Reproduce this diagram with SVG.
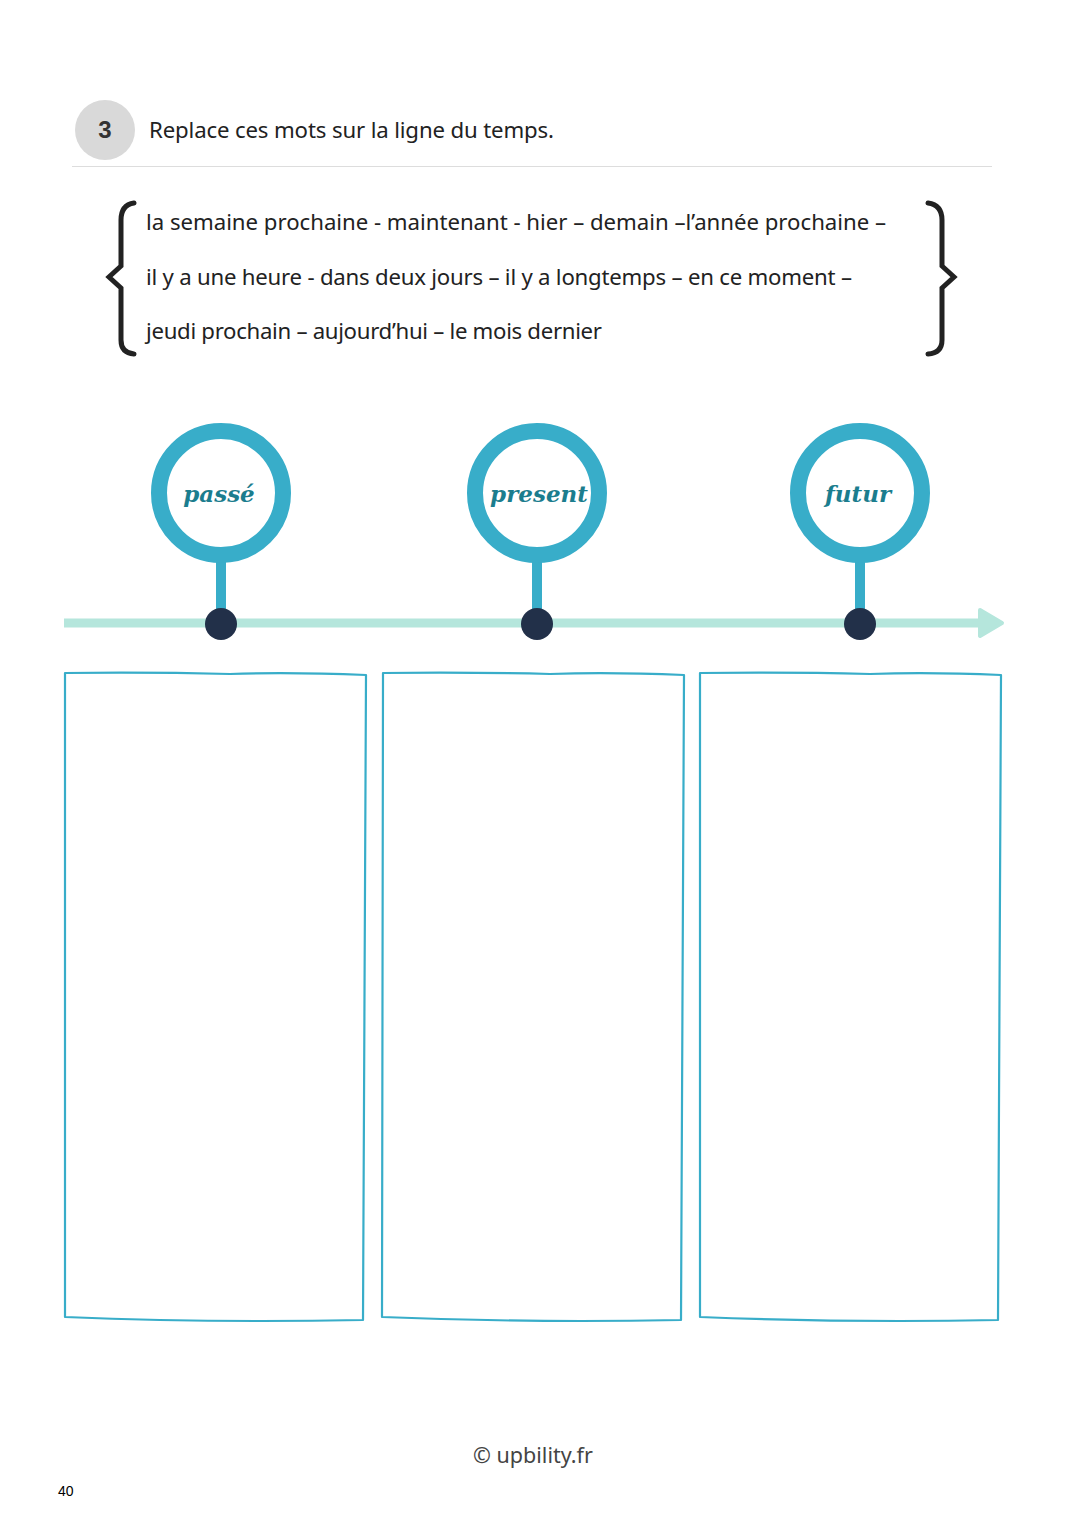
<svg xmlns="http://www.w3.org/2000/svg" width="1068" height="1516" viewBox="0 0 1068 1516">
<style>
.txt{font-family:"Noto Sans","Liberation Sans",sans-serif;fill:#222;font-size:22.2px}
.ring{fill:#fff;stroke:#38ADC9;stroke-width:16}
.stem{stroke:#38ADC9;stroke-width:10}
.dot{fill:#223049}
.lbl{font-family:"DejaVu Serif","Liberation Serif",serif;font-style:italic;font-weight:bold;font-size:23px;fill:#1B7D8E;text-anchor:middle}
.box{fill:none;stroke:#38ADC9;stroke-width:2.2;stroke-linejoin:round}
.brace{fill:none;stroke:#222;stroke-width:5;stroke-linecap:round;stroke-linejoin:miter}
</style>
<rect width="1068" height="1516" fill="#fff"/>
<g id="header">
<circle cx="105" cy="130" r="30" fill="#D9D9D9"/>
<text x="105" y="138" font-family="Liberation Sans,sans-serif" font-weight="bold" font-size="24" fill="#333" text-anchor="middle">3</text>
<text x="149" y="138" class="txt" font-size="23" fill="#333" textLength="405" lengthAdjust="spacing">Replace ces mots sur la ligne du temps.</text>
<line x1="72" y1="166.5" x2="992" y2="166.5" stroke="#DDDDDD" stroke-width="1.2"/>
</g>
<g id="words">
<path class="brace" d="M134,203 Q121,205 121,220 L121,266 L109,277 L121,288 L121,340 Q121,353 134,354"/>
<path class="brace" d="M928,203 Q942,205 942,220 L942,266 L954,277 L942,288 L942,340 Q942,353 928,354"/>
<text class="txt" x="146" y="230" textLength="740" lengthAdjust="spacing">la semaine prochaine - maintenant - hier – demain –l’année prochaine –</text>
<text class="txt" x="146" y="285" textLength="706" lengthAdjust="spacing">il y a une heure - dans deux jours – il y a longtemps – en ce moment –</text>
<text class="txt" x="146" y="339" textLength="456" lengthAdjust="spacing">jeudi prochain – aujourd’hui – le mois dernier</text>
</g>
<g id="connectors">
<line x1="64" y1="623" x2="985" y2="623" stroke="#B5E6DC" stroke-width="9"/>
<path d="M980,610 L1002,623 L980,636 Z" fill="#B5E6DC" stroke="#B5E6DC" stroke-width="4" stroke-linejoin="round"/>
<line class="stem" x1="221" y1="560" x2="221" y2="612"/>
<line class="stem" x1="537" y1="560" x2="537" y2="612"/>
<line class="stem" x1="860" y1="560" x2="860" y2="612"/>
</g>
<g id="node-passe">
<circle class="ring" cx="221" cy="493" r="62"/>
<text class="lbl" x="219" y="502">passé</text>
<circle class="dot" cx="221" cy="624" r="16"/>
</g>
<g id="node-present">
<circle class="ring" cx="537" cy="493" r="62"/>
<text class="lbl" x="539" y="502">present</text>
<circle class="dot" cx="537" cy="624" r="16"/>
</g>
<g id="node-futur">
<circle class="ring" cx="860" cy="493" r="62"/>
<text class="lbl" x="858" y="502">futur</text>
<circle class="dot" cx="860" cy="624" r="16"/>
</g>
<g id="box-passe">
<path class="box" d="M65,673 Q150,672 230,674 Q290,672 366,675 L363,1320 Q210,1323 65,1317 Z"/>
</g>
<g id="box-present">
<path class="box" d="M383,673 Q470,672 550,674 Q610,672 684,675 L681,1320 Q530,1323 382,1317 Z"/>
</g>
<g id="box-futur">
<path class="box" d="M700,673 Q790,672 870,674 Q930,672 1001,675 L998,1320 Q850,1323 700,1317 Z"/>
</g>
<g id="footer">
<text x="533" y="1463" font-family="Noto Sans,Liberation Sans,sans-serif" font-size="21.5" fill="#444" text-anchor="middle">© upbility.fr</text>
<text x="58" y="1496" font-family="Liberation Sans,Arial,sans-serif" font-size="14" fill="#000">40</text>
</g>
</svg>
